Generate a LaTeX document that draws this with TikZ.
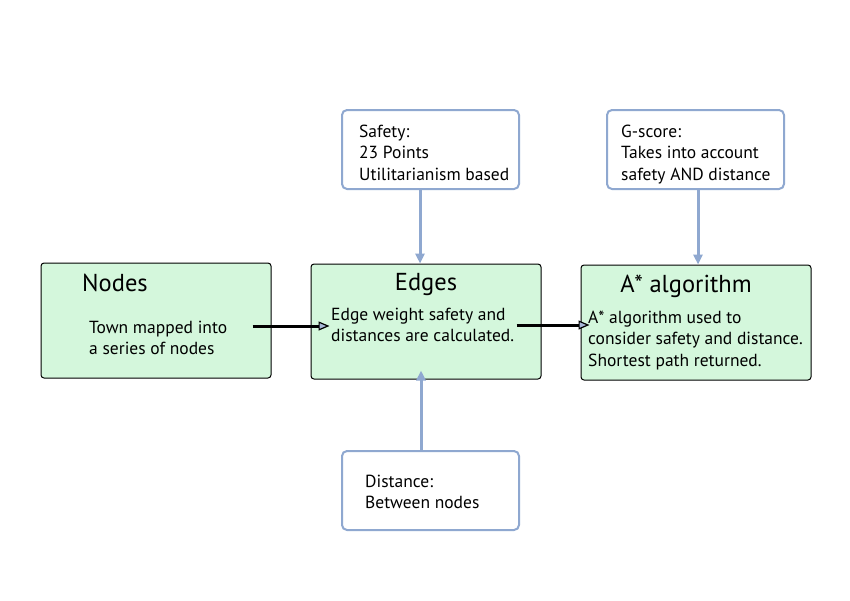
\documentclass[tikz,border=0pt]{standalone}
\usepackage{fontspec}
\setmainfont{PT Sans}
\usetikzlibrary{arrows.meta}
\definecolor{boxgreen}{HTML}{D4F7DC}
\definecolor{linkblue}{HTML}{8FA8D0}
\definecolor{headfill}{HTML}{A8B8D8}
\begin{document}
\begin{tikzpicture}[x=1pt,y=-1pt,
  mainbox/.style={draw=black, line width=1pt, fill=boxgreen, rounded corners=3pt, minimum width=230pt, minimum height=115pt, inner sep=0pt},
  notebox/.style={draw=linkblue, line width=2pt, fill=white, rounded corners=5pt, minimum width=177pt, minimum height=79pt, inner sep=0pt},
  title/.style={font=\fontsize{24.5}{28}\selectfont, inner sep=0pt, anchor=base},
  body/.style={font=\fontsize{17.5}{21.8}\selectfont, align=left, anchor=base west, inner sep=0pt},
  flow/.style={line width=3pt, black, -{Triangle[open, length=11pt, width=9pt, line width=1.2pt, fill=headfill]}},
  feed/.style={line width=3pt, linkblue, -{Triangle[length=10pt, width=9pt]}}
]
\useasboundingbox (0,0) rectangle (850,600);
\fill[white] (0,0) rectangle (850,600);

\node[mainbox] (nodes) at (156,320.5) {};
\node[mainbox] (edges) at (426,321.5) {};
\node[mainbox] (astar) at (696,322.5) {};

\node[notebox] (safety) at (430.5,149.5) {};
\node[notebox] (gscore) at (695.5,149.5) {};
\node[notebox] (distance) at (430.5,490.5) {};

\node[title, anchor=base west] (nodest) at (82,291) {Nodes};
\node[title] (edgest) at (426,290) {Edges};
\node[title] (astart) at (686,292) {A* algorithm};

% anchor base of a multi-line node is the baseline of its last line
\node[body] (nodesb) at (89,354.8) {Town mapped into\\a series of nodes};
\node[body] (edgesb) at (331,341.8) {Edge weight safety and\\distances are calculated.};
\node[body] (astarb) at (588,366.6) {A* algorithm used to\\consider safety and distance.\\Shortest path returned.};

\node[body] (safetyb) at (359,180.6) {Safety:\\23 Points\\Utilitarianism based};
\node[body] (gscoreb) at (621,180.6) {G-score:\\Takes into account\\safety AND distance};
\node[body] (distanceb) at (365,508.8) {Distance:\\Between nodes};

\draw[flow, shorten <=-19pt, shorten >=-19pt] (nodes.east |- 0,326) coordinate (n1) -- (edges.west |- 0,326) coordinate (e1);
\draw[flow, shorten <=-25pt, shorten >=-9pt] (edges.east |- 0,325) coordinate (e2) -- (astar.west |- 0,325) coordinate (a1);

\draw[feed] (safety.south -| 420,0) -- (edges.north -| 420,0);
\draw[feed] (gscore.south -| 698,0) -- (astar.north -| 698,0);
\draw[feed, shorten >=-9pt] (distance.north -| 421,0) -- (edges.south -| 421,0);
\end{tikzpicture}
\end{document}
